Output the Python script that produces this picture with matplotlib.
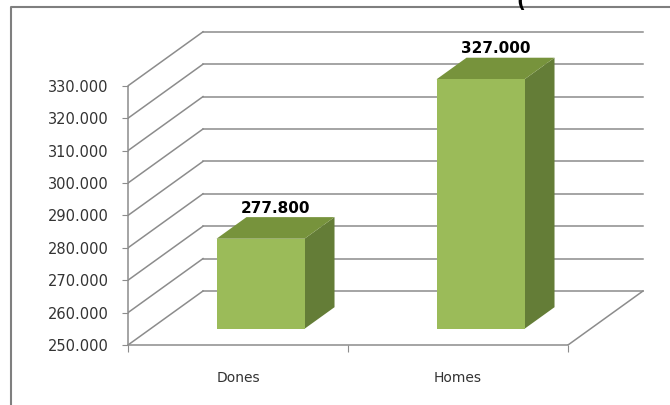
import matplotlib
matplotlib.use('Agg')
import matplotlib.pyplot as plt
from matplotlib.patches import Polygon
from matplotlib.lines import Line2D

# Data
categories = ['Dones', 'Homes']
values = [277800, 327000]
y_ticks = [250000, 260000, 270000, 280000, 290000, 300000, 310000, 320000, 330000]


def fmt(v):
    # thousands separator as a dot (Catalan/Spanish style)
    return f"{v:,.0f}".replace(',', '.')


# Fake 3D settings (depth offset in data units)
DX = 0.341
DY = 16670
bar_w = 0.4
z0, z1 = 0.3, 0.7
grid_col = '#8c8c8c'

fig = plt.figure(figsize=(6.7, 4.05), dpi=100)
ax = fig.add_axes([128 / 670, 60 / 405, 522 / 670, 325 / 405])
y_min, y_max = y_ticks[0], y_ticks[-1]
ax.set_xlim(0, 522 / 220)
ax.set_ylim(y_min, y_min + 325 / 3.24 * 1000)
ax.patch.set_alpha(0)

# Walls: oblique lines on the side wall, horizontal ones on the back wall
n = len(categories)
for v in y_ticks:
    ax.plot([0, DX], [v, v + DY], color=grid_col, lw=1.1, zorder=1)
    ax.plot([DX, n + DX], [v + DY, v + DY], color=grid_col, lw=1.1, zorder=1)
# floor right edge
ax.plot([n, n + DX], [y_min, y_min + DY], color=grid_col, lw=1.1, zorder=1)

# Bars
front_col = '#9bbb59'
top_col = '#77933c'
side_col = '#647d37'
for i, v in enumerate(values):
    x0 = i + 0.5 - bar_w / 2
    x1 = i + 0.5 + bar_w / 2
    fx0, fx1 = x0 + z0 * DX, x1 + z0 * DX
    bx0, bx1 = x0 + z1 * DX, x1 + z1 * DX
    yb0, yb1 = y_min + z0 * DY, y_min + z1 * DY
    yt0, yt1 = v + z0 * DY, v + z1 * DY
    ax.add_patch(Polygon([(fx1, yb0), (fx1, yt0), (bx1, yt1), (bx1, yb1)],
                         closed=True, fc=side_col, ec='none', zorder=3))
    ax.add_patch(Polygon([(fx0, yt0), (fx1, yt0), (bx1, yt1), (bx0, yt1)],
                         closed=True, fc=top_col, ec='none', zorder=3))
    ax.add_patch(Polygon([(fx0, yb0), (fx1, yb0), (fx1, yt0), (fx0, yt0)],
                         closed=True, fc=front_col, ec='none', zorder=4))
    ax.annotate(fmt(v), xy=(i + 0.5 + 0.5 * (z0 + z1) * DX, yt1),
                xytext=(0, 1), textcoords='offset points',
                ha='center', va='bottom', fontsize=11, fontweight='bold',
                color='black', zorder=5)

# Axes: front value axis and floor front edge
for s in ['top', 'right']:
    ax.spines[s].set_visible(False)
ax.spines['left'].set_bounds(y_min, y_max)
ax.spines['bottom'].set_bounds(0, n)
for s in ['left', 'bottom']:
    ax.spines[s].set_color(grid_col)
    ax.spines[s].set_linewidth(1.1)

ax.set_yticks(y_ticks)
ax.set_yticklabels([fmt(v) for v in y_ticks])
ax.tick_params(axis='y', length=4, color=grid_col, labelsize=10.5,
               labelcolor='#333333', pad=10)

ax.set_xticks(range(n + 1))
ax.set_xticklabels([])
ax.set_xticks([i + 0.5 for i in range(n)], minor=True)
ax.set_xticklabels(categories, minor=True)
ax.tick_params(axis='x', which='major', length=5, color=grid_col)
ax.tick_params(axis='x', which='minor', length=0, pad=19, labelsize=10,
               labelcolor='#333333')

# Chart area border (only top and left visible in the crop)
fig.add_artist(Line2D([11 / 670, 11 / 670, 1], [0, 1 - 7 / 405, 1 - 7 / 405],
                      transform=fig.transFigure, color='#7f7f7f', lw=1.5))
# bit of a cropped title above the picture
fig.text(521 / 670, 1 - 11 / 405, '(', fontsize=14, fontweight='bold',
         ha='center', va='bottom')

fig.savefig('out.png', dpi=100)
